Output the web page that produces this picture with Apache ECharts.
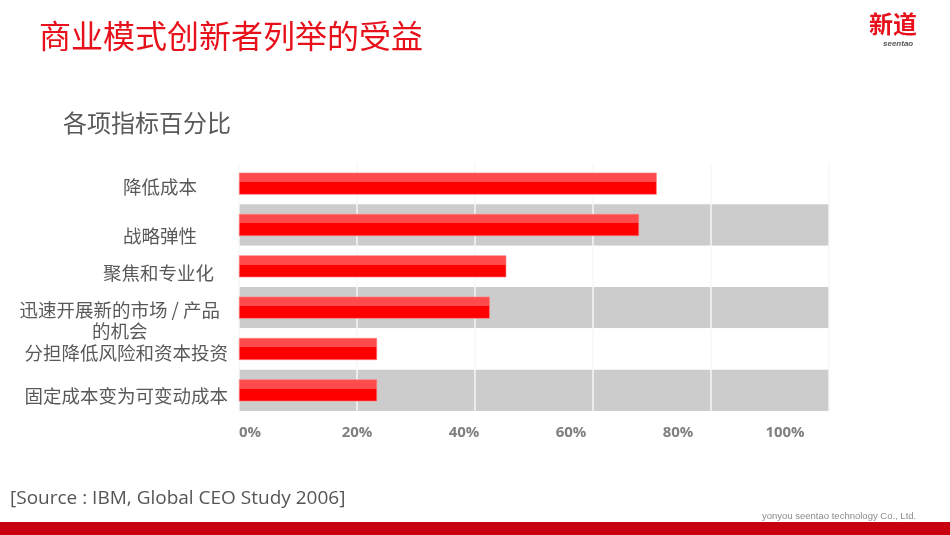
<!DOCTYPE html>
<html><head><meta charset="utf-8">
<script src="https://cdn.jsdelivr.net/npm/echarts@6/dist/echarts.min.js"></script>
<style>html,body{margin:0;padding:0;background:#fff}#c{width:950px;height:535px}</style>
</head><body><div id="c"></div>
<script>
const categories = ['降低成本','战略弹性','聚焦和专业化','迅速开展新的市场 / 产品\n的机会','分担降低风险和资本投资','固定成本变为可变动成本'];
const values = [70.8, 67.8, 45.3, 42.5, 23.4, 23.4];
const tickValues = [0, 20, 40, 60, 80, 100];

const chart = echarts.init(document.getElementById('c'));
const cjk = '"Noto Sans CJK SC", "Noto Sans", sans-serif';

// per-label styling (padding offsets) to match the reference's label placement
const labelRich = {
  r0: {padding: [6, 31, 0, 0]},
  r1: {padding: [22, 31, 0, 0]},
  r2: {padding: [14, 14, 0, 0]},
  r3s: {height: 26, lineHeight: 26, fontSize: 4},
  r3a: {padding: [0, 8, 0, 0]},
  r3b: {padding: [0, 8, 0, 0], align: 'center'},
  r4: {padding: [8, 0, 0, 0]},
  r5: {padding: [12, 0, 0, 0]}
};
Object.values(labelRich).forEach(s => {
  s.color = '#595959'; s.fontFamily = cjk;
  if (!s.fontSize) { s.fontSize = 18.5; s.lineHeight = 21; }
});

chart.setOption({
  animation: false,
  backgroundColor: '#ffffff',
  title: [
    {text: '商业模式创新者列举的受益', left: 34, top: 15, textStyle: {color: '#E8101A', fontSize: 32, fontWeight: 'normal', fontFamily: cjk}},
    {text: '各项指标百分比', left: 58, top: 106, textStyle: {color: '#595959', fontSize: 24, fontWeight: 'normal', fontFamily: cjk}},
    {text: '[Source : IBM, Global CEO Study 2006]', left: 5, top: 484, textStyle: {color: '#555555', fontSize: 19, fontWeight: 'normal', fontFamily: '"Open Sans", sans-serif'}},
    {text: 'yonyou seentao technology Co., Ltd.', left: 757, top: 506, textStyle: {color: '#8c8c8c', fontSize: 9.5, fontWeight: 'normal', fontFamily: '"Liberation Sans", sans-serif'}},
    {text: '新道', left: 864, top: 7, textStyle: {color: '#E8101A', fontSize: 24, fontWeight: 'bold', fontFamily: cjk}},
    {text: 'seentao', left: 878, top: 35, textStyle: {color: '#555', fontSize: 8, fontStyle: 'italic', fontWeight: 'bold', fontFamily: '"Liberation Sans", sans-serif'}}
  ],
  graphic: [
    {type: 'rect', shape: {x: 0, y: 522, width: 950, height: 13}, style: {fill: '#C8000F'}}
  ],
  grid: [
    {left: 239, width: 590, top: 163, height: 248, containLabel: false},
    {left: 250, width: 535, top: 163, height: 248, containLabel: false}
  ],
  xAxis: [
    {type: 'value', gridIndex: 0, min: 0, max: 100, interval: 20,
     axisLabel: {show: false}, axisLine: {show: false}, axisTick: {show: false},
     splitLine: {show: true, lineStyle: {color: '#f7f7f7', width: 1.5}}},
    {type: 'value', gridIndex: 1, min: tickValues[0], max: tickValues[tickValues.length - 1], interval: 20,
     axisLine: {show: false}, axisTick: {show: false}, splitLine: {show: false},
     axisLabel: {formatter: '{value}%', color: '#7f7f7f', fontSize: 15, fontWeight: 'bold', margin: 14, fontFamily: '"Open Sans", sans-serif'}}
  ],
  yAxis: [
    {type: 'category', gridIndex: 0, data: categories, inverse: true,
     axisLine: {show: false}, axisTick: {show: false},
     axisLabel: {margin: 11, align: 'right', rich: labelRich,
       formatter: (v, i) => {
         if (i === 3) { const p = v.split('\n'); return '{r3s| }\n{r3a|' + p[0] + '}\n{r3b|' + p[1] + '}'; }
         return '{r' + i + '|' + v + '}';
       }},
     splitArea: {show: true, areaStyle: {color: ['#ffffff', '#cccccc']}}},
    {type: 'value', gridIndex: 1, show: false, min: 0, max: 1}
  ],
  series: [{
    type: 'bar', xAxisIndex: 0, yAxisIndex: 0, data: values, barWidth: 22,
    itemStyle: {
      borderColor: '#ff8080', borderWidth: 0.6,
      color: {type: 'linear', x: 0, y: 0, x2: 0, y2: 1, colorStops: [
        {offset: 0, color: '#ff4b4b'}, {offset: 0.42, color: '#ff4b4b'},
        {offset: 0.42, color: '#ff0000'}, {offset: 1, color: '#ff0000'}]}
    }
  }]
});
</script></body></html>
